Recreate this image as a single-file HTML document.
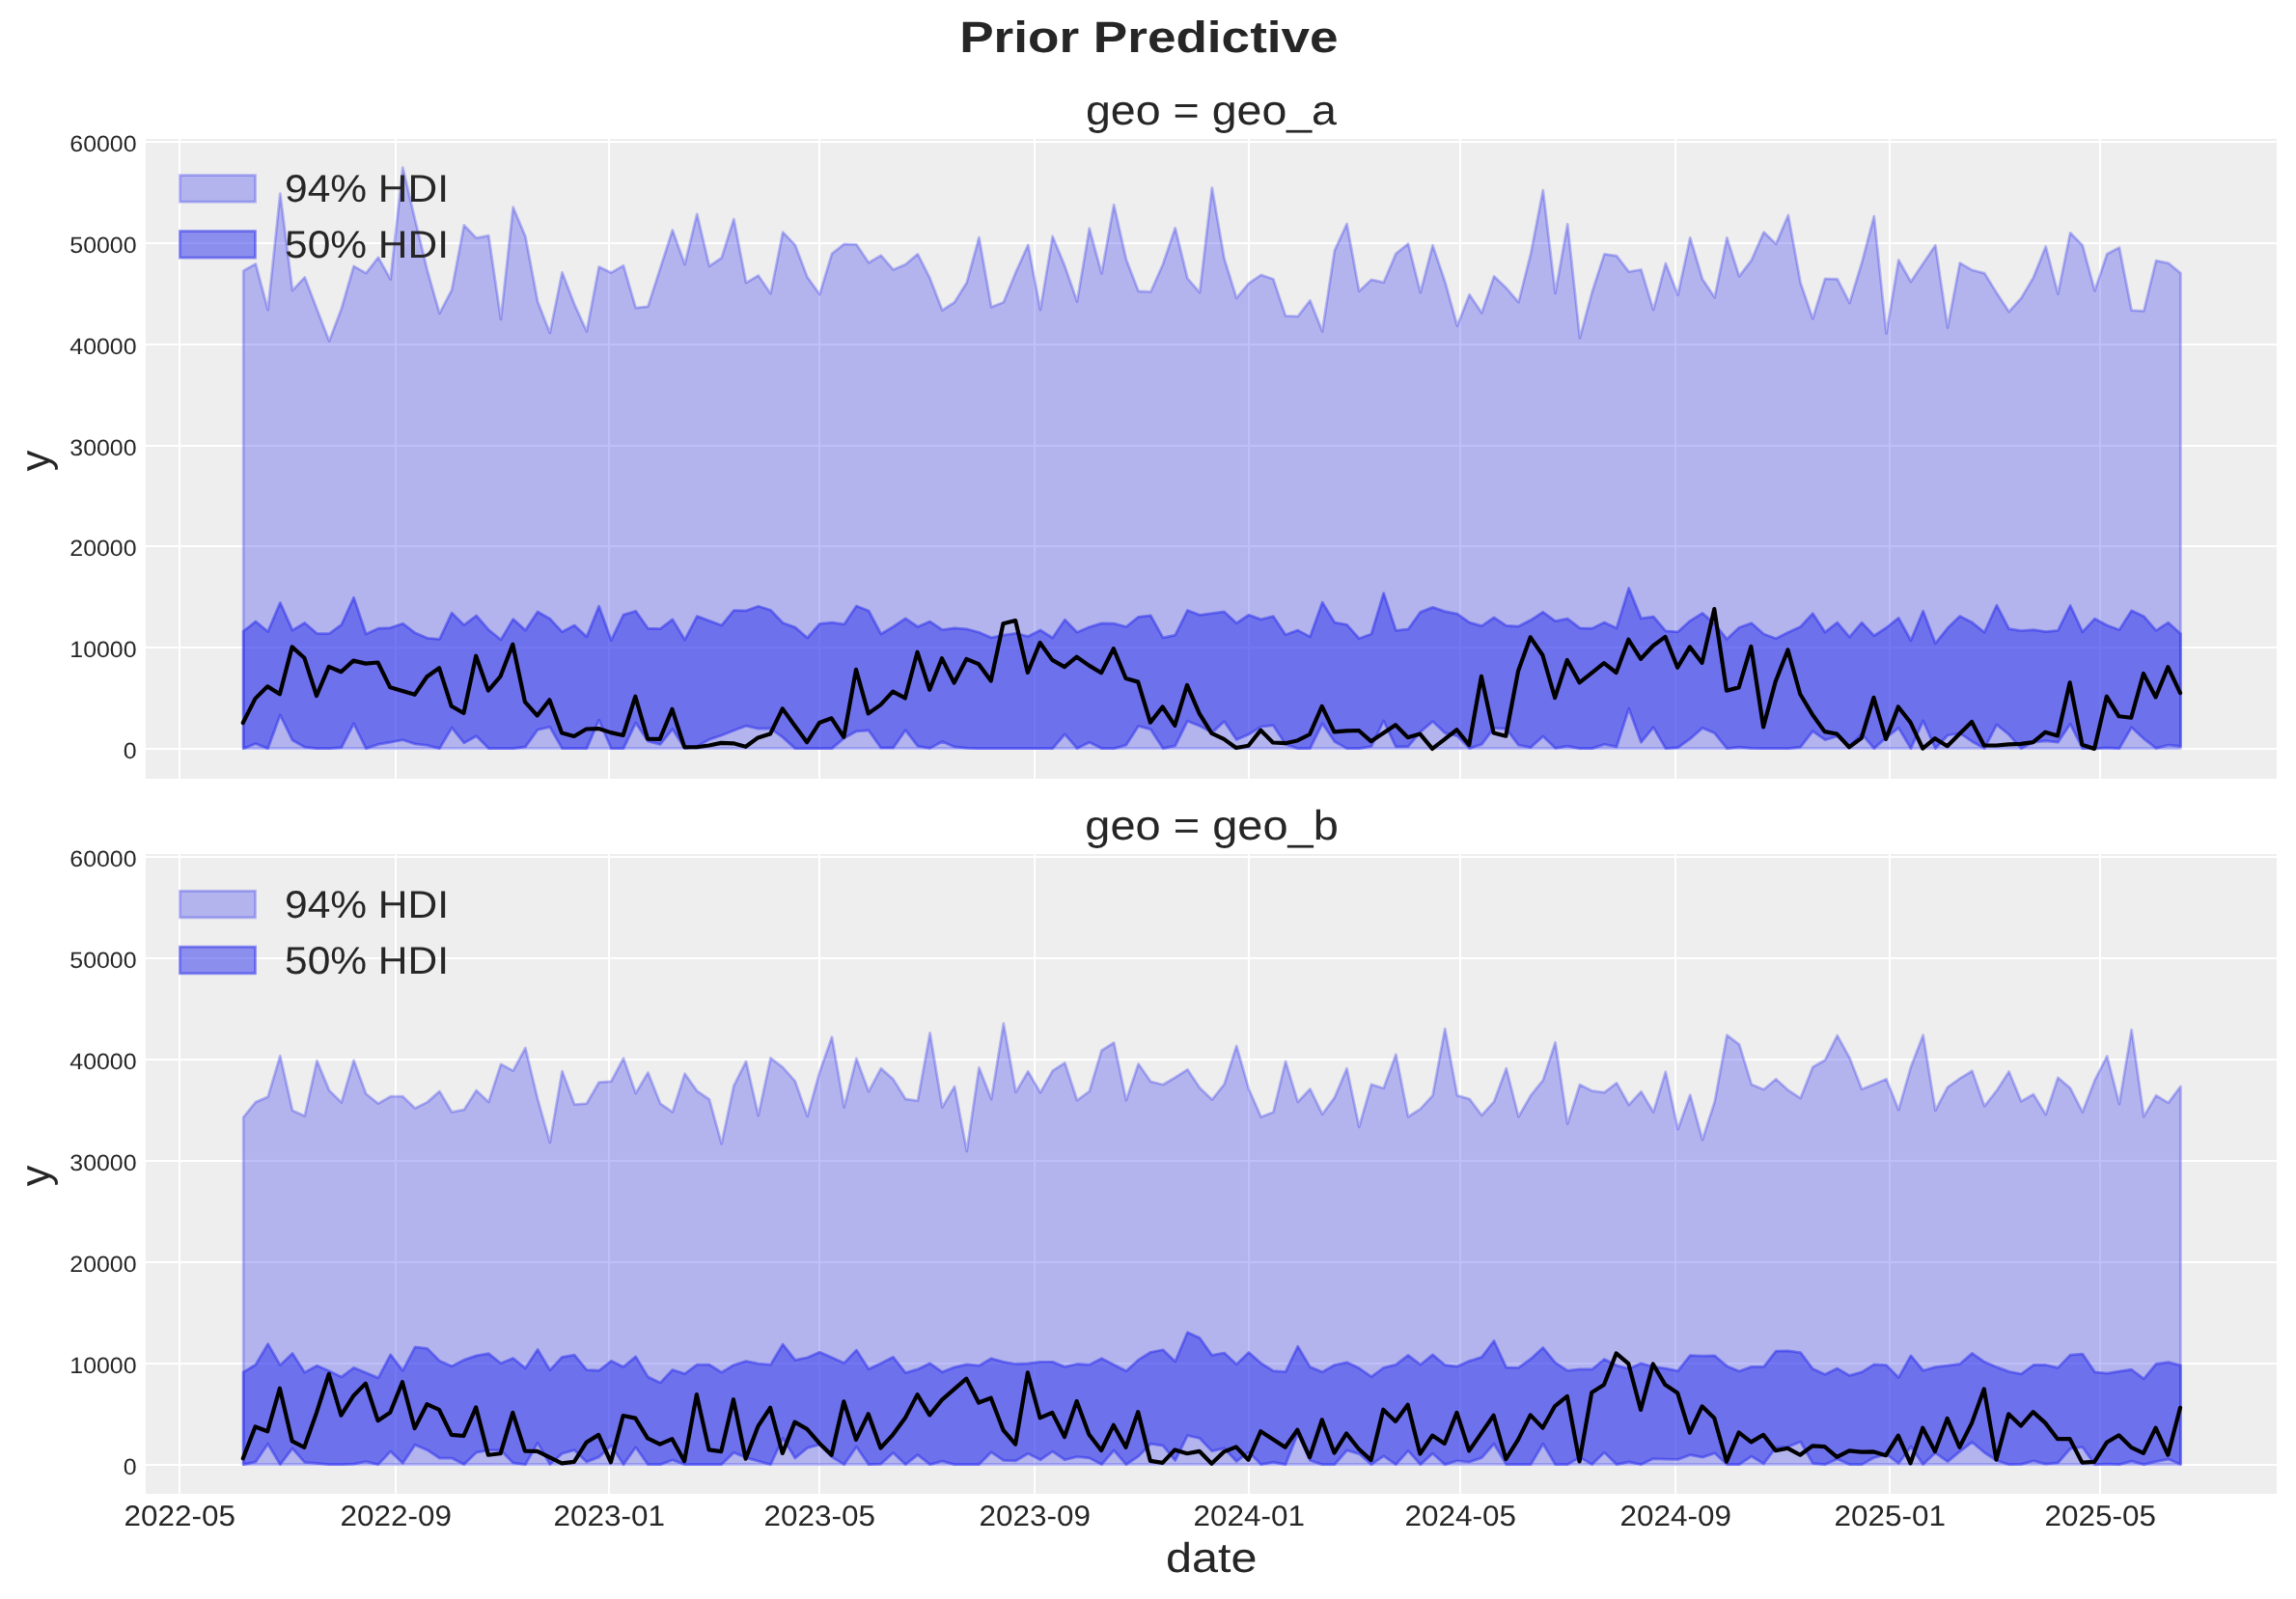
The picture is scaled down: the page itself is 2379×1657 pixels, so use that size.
<!DOCTYPE html>
<html><head><meta charset="utf-8"><title>Prior Predictive</title>
<style>html,body{margin:0;padding:0;background:#fff;width:2379px;height:1657px;overflow:hidden}svg{display:block;will-change:transform}text{font-family:"Liberation Sans", sans-serif;fill:#262626;text-rendering:geometricPrecision}</style></head><body>
<svg width="2379" height="1657" viewBox="0 0 2379 1657">
<rect width="2379" height="1657" fill="#fff"/>
<defs>
<clipPath id="c0"><rect x="151" y="144" width="2208" height="663"/></clipPath>
<clipPath id="c1"><rect x="151" y="885" width="2208" height="663"/></clipPath>
</defs>
<text id="sup" x="1190.4" y="54" text-anchor="middle" font-size="45.5" font-weight="bold" textLength="392.5" lengthAdjust="spacingAndGlyphs">Prior Predictive</text>
<rect x="151" y="144" width="2208" height="663" fill="#eeeeee"/>
<g clip-path="url(#c0)">
<path d="M185 144h2v663h-2zM409 144h2v663h-2zM630 144h2v663h-2zM848 144h2v663h-2zM1071 144h2v663h-2zM1293 144h2v663h-2zM1512 144h2v663h-2zM1735 144h2v663h-2zM1957 144h2v663h-2zM2175 144h2v663h-2zM151 775h2208v2h-2208zM151 670h2208v2h-2208zM151 565h2208v2h-2208zM151 461h2208v2h-2208zM151 356h2208v2h-2208zM151 251h2208v2h-2208zM151 146h2208v2h-2208z" fill="#fff" shape-rendering="crispEdges"/>
<polygon points="252.2,280.61 264.9,273.42 277.61,321.17 290.31,200.63 303.02,301.04 315.72,287.37 328.42,320.45 341.13,353.54 353.83,319.74 366.54,275.86 379.24,283.06 391.94,266.8 404.65,289.53 417.35,173.73 430.06,227.68 442.76,280.18 455.46,324.77 468.17,300.32 480.87,233.43 493.58,246.66 506.28,244.22 518.98,330.96 531.69,214.73 544.39,244.94 557.1,312.54 569.8,344.91 582.5,282.34 595.21,315.42 607.91,343.47 620.62,276.58 633.32,282.62 646.02,275.14 658.73,319.02 671.43,317.58 684.14,278.02 696.84,238.46 709.54,273.99 722.25,221.92 734.95,275.86 747.66,267.23 760.36,226.96 773.06,293.12 785.77,285.5 798.47,304.2 811.18,240.62 823.88,253.86 836.58,287.37 849.29,305.06 861.99,262.92 874.7,252.85 887.4,253.28 900.1,272.27 912.81,264.64 925.51,279.46 938.22,273.99 950.92,263.35 963.62,288.38 976.33,321.46 989.03,313.26 1001.74,292.69 1014.44,246.09 1027.14,318.3 1039.85,313.26 1052.55,282.05 1065.26,253.86 1077.96,321.17 1090.66,244.94 1103.37,275.86 1116.07,312.54 1128.78,236.74 1141.48,283.49 1154.18,212.28 1166.89,268.67 1179.59,301.75 1192.3,302.47 1205,273.71 1217.7,236.31 1230.41,288.38 1243.11,303.19 1255.82,194.59 1268.52,267.95 1281.22,308.95 1293.93,293.56 1306.63,284.93 1319.34,289.24 1332.04,327.36 1344.74,327.93 1357.45,311.39 1370.15,343.47 1382.86,259.61 1395.56,231.99 1408.26,301.75 1420.97,289.82 1433.67,292.69 1446.38,262.92 1459.08,252.56 1471.78,303.19 1484.49,254.29 1497.19,291.69 1509.9,337.72 1522.6,305.35 1535.3,324.34 1548.01,286.36 1560.71,298.45 1573.42,313.26 1586.12,262.92 1598.82,197.18 1611.53,303.91 1624.23,232.28 1636.94,350.37 1649.64,302.76 1662.34,263.35 1675.05,265.07 1687.75,281.62 1700.46,279.46 1713.16,321.17 1725.86,272.99 1738.57,305.64 1751.27,246.38 1763.98,289.24 1776.68,308.23 1789.38,246.38 1802.09,286.36 1814.79,269.68 1827.5,240.62 1840.2,252.85 1852.9,222.93 1865.61,293.12 1878.31,330.24 1891.02,288.81 1903.72,289.24 1916.42,313.98 1929.13,272.27 1941.83,224.08 1954.54,345.63 1967.24,269.39 1979.94,291.97 1992.65,272.99 2005.35,254.29 2018.06,339.59 2030.76,272.55 2043.46,279.89 2056.17,283.06 2068.87,303.62 2081.58,323.04 2094.28,308.95 2106.98,287.37 2119.69,255.44 2132.39,304.63 2145.1,241.34 2157.8,254.29 2170.5,301.32 2183.21,263.2 2195.91,256.44 2208.62,321.61 2221.32,322.32 2234.02,270.11 2246.73,272.7 2259.43,283.06 2259.43,775.6 2246.73,775.6 2234.02,775.6 2221.32,775.6 2208.62,775.6 2195.91,775.6 2183.21,775.6 2170.5,775.6 2157.8,775.6 2145.1,775.6 2132.39,775.6 2119.69,775.6 2106.98,775.6 2094.28,775.6 2081.58,775.6 2068.87,775.6 2056.17,775.6 2043.46,775.6 2030.76,775.6 2018.06,775.6 2005.35,775.6 1992.65,775.6 1979.94,775.6 1967.24,775.6 1954.54,775.6 1941.83,775.6 1929.13,775.6 1916.42,775.6 1903.72,775.6 1891.02,775.6 1878.31,775.6 1865.61,775.6 1852.9,775.6 1840.2,775.6 1827.5,775.6 1814.79,775.6 1802.09,775.6 1789.38,775.6 1776.68,775.6 1763.98,775.6 1751.27,775.6 1738.57,775.6 1725.86,775.6 1713.16,775.6 1700.46,775.6 1687.75,775.6 1675.05,775.6 1662.34,775.6 1649.64,775.6 1636.94,775.6 1624.23,775.6 1611.53,775.6 1598.82,775.6 1586.12,775.6 1573.42,775.6 1560.71,775.6 1548.01,775.6 1535.3,775.6 1522.6,775.6 1509.9,775.6 1497.19,775.6 1484.49,775.6 1471.78,775.6 1459.08,775.6 1446.38,775.6 1433.67,775.6 1420.97,775.6 1408.26,775.6 1395.56,775.6 1382.86,775.6 1370.15,775.6 1357.45,775.6 1344.74,775.6 1332.04,775.6 1319.34,775.6 1306.63,775.6 1293.93,775.6 1281.22,775.6 1268.52,775.6 1255.82,775.6 1243.11,775.6 1230.41,775.6 1217.7,775.6 1205,775.6 1192.3,775.6 1179.59,775.6 1166.89,775.6 1154.18,775.6 1141.48,775.6 1128.78,775.6 1116.07,775.6 1103.37,775.6 1090.66,775.6 1077.96,775.6 1065.26,775.6 1052.55,775.6 1039.85,775.6 1027.14,775.6 1014.44,775.6 1001.74,775.6 989.03,775.6 976.33,775.6 963.62,775.6 950.92,775.6 938.22,775.6 925.51,775.6 912.81,775.6 900.1,775.6 887.4,775.6 874.7,775.6 861.99,775.6 849.29,775.6 836.58,775.6 823.88,775.6 811.18,775.6 798.47,775.6 785.77,775.6 773.06,775.6 760.36,775.6 747.66,775.6 734.95,775.6 722.25,775.6 709.54,775.6 696.84,775.6 684.14,775.6 671.43,775.6 658.73,775.6 646.02,775.6 633.32,775.6 620.62,775.6 607.91,775.6 595.21,775.6 582.5,775.6 569.8,775.6 557.1,775.6 544.39,775.6 531.69,775.6 518.98,775.6 506.28,775.6 493.58,775.6 480.87,775.6 468.17,775.6 455.46,775.6 442.76,775.6 430.06,775.6 417.35,775.6 404.65,775.6 391.94,775.6 379.24,775.6 366.54,775.6 353.83,775.6 341.13,775.6 328.42,775.6 315.72,775.6 303.02,775.6 290.31,775.6 277.61,775.6 264.9,775.6 252.2,775.6" fill="#2a2eec" fill-opacity="0.3" stroke="#2a2eec" stroke-opacity="0.3" stroke-width="2.78" stroke-linejoin="round"/>
<polygon points="252.2,654.11 264.9,644.04 277.61,654.55 290.31,624.63 303.02,653.11 315.72,645.48 328.42,656.56 341.13,656.7 353.83,647.35 366.54,619.3 379.24,656.99 391.94,651.24 404.65,650.52 417.35,646.2 430.06,655.84 442.76,661.31 455.46,662.31 468.17,635.13 480.87,647.64 493.58,638 506.28,652.68 518.98,663.03 531.69,641.6 544.39,653.11 557.1,633.98 569.8,641.31 582.5,654.83 595.21,648.07 607.91,659.87 620.62,628.22 633.32,663.46 646.02,637.14 658.73,633.26 671.43,651.24 684.14,651.52 696.84,641.89 709.54,663.03 722.25,638.58 734.95,643.33 747.66,648.07 760.36,632.54 773.06,632.83 785.77,628.22 798.47,632.25 811.18,645.48 823.88,650.09 836.58,661.02 849.29,646.49 861.99,645.2 874.7,646.92 887.4,627.93 900.1,632.97 912.81,656.99 925.51,649.51 938.22,640.88 950.92,649.51 963.62,644.04 976.33,652.68 989.03,650.81 1001.74,651.96 1014.44,655.26 1027.14,660.87 1039.85,658.14 1052.55,656.27 1065.26,659.58 1077.96,652.96 1090.66,661.02 1103.37,642.17 1116.07,655.26 1128.78,649.8 1141.48,645.91 1154.18,646.2 1166.89,649.51 1179.59,639.3 1192.3,637.86 1205,660.95 1217.7,658.14 1230.41,632.54 1243.11,637.28 1255.82,635.7 1268.52,633.98 1281.22,645.77 1293.93,637.28 1306.63,641.89 1319.34,638.72 1332.04,657.71 1344.74,653.11 1357.45,659.87 1370.15,624.19 1382.86,645.05 1395.56,647.35 1408.26,661.74 1420.97,656.99 1433.67,614.56 1446.38,653.39 1459.08,651.96 1471.78,634.41 1484.49,629.37 1497.19,633.69 1509.9,636.13 1522.6,645.05 1535.3,648.65 1548.01,640.02 1560.71,648.36 1573.42,649.08 1586.12,642.61 1598.82,634.26 1611.53,643.61 1624.23,641.17 1636.94,650.81 1649.64,651.24 1662.34,645.05 1675.05,650.95 1687.75,609.52 1700.46,640.88 1713.16,639.01 1725.86,653.83 1738.57,654.83 1751.27,643.33 1763.98,635.41 1776.68,646.63 1789.38,662.31 1802.09,650.23 1814.79,645.77 1827.5,656.99 1840.2,661.74 1852.9,655.26 1865.61,649.51 1878.31,635.7 1891.02,655.12 1903.72,645.2 1916.42,660.16 1929.13,645.2 1941.83,658.72 1954.54,650.52 1967.24,640.45 1979.94,663.75 1992.65,633.26 2005.35,666.77 2018.06,650.81 2030.76,638.58 2043.46,645.05 2056.17,655.26 2068.87,627.22 2081.58,651.67 2094.28,653.68 2106.98,652.68 2119.69,654.55 2132.39,653.39 2145.1,627.5 2157.8,654.83 2170.5,641.17 2183.21,647.93 2195.91,652.68 2208.62,632.83 2221.32,638.72 2234.02,653.39 2246.73,645.2 2259.43,656.7 2259.43,773.5 2246.73,772.07 2234.02,775.37 2221.32,765.59 2208.62,753.65 2195.91,775.6 2183.21,774.94 2170.5,775.6 2157.8,775.6 2145.1,750.2 2132.39,769.19 2119.69,767.75 2106.98,769.19 2094.28,775.6 2081.58,761.28 2068.87,750.92 2056.17,775.6 2043.46,768.47 2030.76,759.84 2018.06,762 2005.35,775.6 1992.65,746.89 1979.94,775.6 1967.24,754.37 1954.54,764.15 1941.83,775.6 1929.13,760.56 1916.42,773.5 1903.72,763 1891.02,766.74 1878.31,757.68 1865.61,774.22 1852.9,775.6 1840.2,775.6 1827.5,775.6 1814.79,775.37 1802.09,774.22 1789.38,775.6 1776.68,759.84 1763.98,754.37 1751.27,765.59 1738.57,774.65 1725.86,775.6 1713.16,753.65 1700.46,769.19 1687.75,734.23 1675.05,773.79 1662.34,771.35 1649.64,775.6 1636.94,775.6 1624.23,773.22 1611.53,775.37 1598.82,763 1586.12,774.51 1573.42,772.07 1560.71,755.24 1548.01,754.37 1535.3,771.35 1522.6,775.6 1509.9,762.72 1497.19,759.55 1484.49,747.61 1471.78,758.4 1459.08,773.5 1446.38,773.94 1433.67,746.89 1420.97,773.5 1408.26,775.6 1395.56,775.6 1382.86,768.47 1370.15,749.77 1357.45,775.6 1344.74,775.6 1332.04,771.35 1319.34,751.64 1306.63,753.08 1293.93,760.99 1281.22,766.6 1268.52,747.61 1255.82,759.12 1243.11,752.22 1230.41,747.18 1217.7,772.78 1205,775.6 1192.3,755.81 1179.59,752.36 1166.89,772.07 1154.18,775.6 1141.48,775.6 1128.78,769.19 1116.07,775.6 1103.37,760.85 1090.66,775.6 1077.96,775.6 1065.26,775.6 1052.55,775.6 1039.85,775.6 1027.14,775.6 1014.44,775.6 1001.74,775.23 989.03,773.94 976.33,768.47 963.62,775.37 950.92,773.22 938.22,756.67 925.51,774.94 912.81,774.94 900.1,756.96 887.4,757.83 874.7,764.87 861.99,775.6 849.29,775.6 836.58,775.6 823.88,775.6 811.18,764.15 798.47,754.8 785.77,755.09 773.06,752.22 760.36,756.96 747.66,762 734.95,766.31 722.25,773.5 709.54,775.6 696.84,755.52 684.14,771.35 671.43,768.18 658.73,749.05 646.02,775.6 633.32,775.6 620.62,746.17 607.91,775.6 595.21,775.6 582.5,775.6 569.8,753.37 557.1,756.24 544.39,773.94 531.69,775.6 518.98,775.6 506.28,775.6 493.58,762.72 480.87,769.91 468.17,754.09 455.46,775.6 442.76,772.35 430.06,770.91 417.35,766.74 404.65,769.19 391.94,771.35 379.24,775.6 366.54,749.77 353.83,774.51 341.13,775.6 328.42,775.6 315.72,774.22 303.02,767.03 290.31,740.85 277.61,775.6 264.9,770.63 252.2,775.6" fill="#2a2eec" fill-opacity="0.5" stroke="#2a2eec" stroke-opacity="0.5" stroke-width="2.78" stroke-linejoin="round"/>
<polyline points="251.8,749.05 264.5,723.88 277.21,711.36 289.91,719.28 302.62,670.37 315.32,681.73 328.02,721 340.73,690.79 353.43,696.26 366.14,684.61 378.84,687.63 391.54,686.48 404.25,712.37 416.95,716.11 429.66,719.85 442.36,701.29 455.06,692.23 467.77,731.79 480.47,738.98 493.18,679.72 505.88,715.68 518.58,700.86 531.29,667.78 543.99,727.47 556.7,741.57 569.4,725.32 582.1,759.55 594.81,763 607.51,755.52 620.22,755.09 632.92,759.12 645.62,762 658.33,721.72 671.03,765.59 683.74,765.88 696.44,734.95 709.14,774.22 721.85,774.22 734.55,772.5 747.26,769.91 759.96,770.34 772.66,773.79 785.37,764.44 798.07,760.56 810.78,734.38 823.48,751.93 836.18,769.19 848.89,749.05 861.59,744.3 874.3,763.87 887,693.89 899.7,739.41 912.41,730.35 925.11,716.69 937.82,723.45 950.52,675.69 963.22,714.82 975.93,682.16 988.63,707.62 1001.34,682.88 1014.04,688.2 1026.74,705.47 1039.45,646.2 1052.15,643.04 1064.86,696.98 1077.56,666.05 1090.26,683.89 1102.97,691.08 1115.67,680.72 1128.38,689.64 1141.08,697.27 1153.78,672.09 1166.49,703.02 1179.19,706.62 1191.9,748.62 1204.6,732.51 1217.3,751.93 1230.01,709.93 1242.71,739.41 1255.42,759.84 1268.12,765.88 1280.82,774.94 1293.53,772.78 1306.23,756.67 1318.94,769.48 1331.64,770.2 1344.34,767.46 1357.05,760.99 1369.75,731.79 1382.46,758.4 1395.16,757.39 1407.86,756.96 1420.57,768.18 1433.27,759.7 1445.98,751.21 1458.68,764.15 1471.38,760.56 1484.09,775.95 1496.79,766.02 1509.5,756.24 1522.2,772.07 1534.9,700.86 1547.61,759.55 1560.31,762.72 1573.02,695.54 1585.72,660.3 1598.42,679 1611.13,723.16 1623.83,683.89 1636.54,707.34 1649.24,697.27 1661.94,687.2 1674.65,696.98 1687.35,662.74 1700.06,682.88 1712.76,669.22 1725.46,659.87 1738.17,691.8 1750.87,670.37 1763.58,686.91 1776.28,631.1 1788.98,715.68 1801.69,712.37 1814.39,669.94 1827.1,753.37 1839.8,705.9 1852.5,673.53 1865.21,719.28 1877.91,740.42 1890.62,758.11 1903.32,760.56 1916.02,774.22 1928.73,764.87 1941.43,722.87 1954.14,765.88 1966.84,732.51 1979.54,748.62 1992.25,775.66 2004.95,765.16 2017.66,773.22 2030.36,760.56 2043.06,748.04 2055.77,772.5 2068.47,772.5 2081.18,771.35 2093.88,770.91 2106.58,769.19 2119.29,758.69 2131.99,762.43 2144.7,707.34 2157.4,771.71 2170.1,775.95 2182.81,721.72 2195.51,742.29 2208.22,743.73 2220.92,697.99 2233.62,722.44 2246.33,691.23 2259.03,718.12" fill="none" stroke="#000" stroke-width="4.17" stroke-linejoin="round" stroke-linecap="round"/>
<rect x="186.4" y="181.6" width="78.1" height="27.6" fill="#2a2eec" fill-opacity="0.3" stroke="#2a2eec" stroke-opacity="0.3" stroke-width="2.78"/>
<rect x="186.4" y="239.5" width="78.1" height="27.6" fill="#2a2eec" fill-opacity="0.5" stroke="#2a2eec" stroke-opacity="0.5" stroke-width="2.78"/>
</g>
<text class="leg" x="295" y="209.2" font-size="40" textLength="170" lengthAdjust="spacingAndGlyphs">94% HDI</text>
<text class="leg" x="295" y="267.3" font-size="40" textLength="170" lengthAdjust="spacingAndGlyphs">50% HDI</text>
<text class="ttl" x="1255" y="128.5" text-anchor="middle" font-size="43" textLength="260" lengthAdjust="spacingAndGlyphs">geo = geo_a</text>
<text class="yt" x="141.5" y="786.1" text-anchor="end" font-size="23.6" textLength="13.84" lengthAdjust="spacingAndGlyphs">0</text>
<text class="yt" x="141.5" y="681.1" text-anchor="end" font-size="23.6" textLength="69.2" lengthAdjust="spacingAndGlyphs">10000</text>
<text class="yt" x="141.5" y="576.1" text-anchor="end" font-size="23.6" textLength="69.2" lengthAdjust="spacingAndGlyphs">20000</text>
<text class="yt" x="141.5" y="472.1" text-anchor="end" font-size="23.6" textLength="69.2" lengthAdjust="spacingAndGlyphs">30000</text>
<text class="yt" x="141.5" y="367.1" text-anchor="end" font-size="23.6" textLength="69.2" lengthAdjust="spacingAndGlyphs">40000</text>
<text class="yt" x="141.5" y="262.1" text-anchor="end" font-size="23.6" textLength="69.2" lengthAdjust="spacingAndGlyphs">50000</text>
<text class="yt" x="141.5" y="157.1" text-anchor="end" font-size="23.6" textLength="69.2" lengthAdjust="spacingAndGlyphs">60000</text>
<text class="yl" transform="translate(51.3 477.5) rotate(-90)" text-anchor="middle" font-size="43">y</text>
<rect x="151" y="885" width="2208" height="663" fill="#eeeeee"/>
<g clip-path="url(#c1)">
<path d="M185 885h2v663h-2zM409 885h2v663h-2zM630 885h2v663h-2zM848 885h2v663h-2zM1071 885h2v663h-2zM1293 885h2v663h-2zM1512 885h2v663h-2zM1735 885h2v663h-2zM1957 885h2v663h-2zM2175 885h2v663h-2zM151 1517h2208v2h-2208zM151 1412h2208v2h-2208zM151 1307h2208v2h-2208zM151 1202h2208v2h-2208zM151 1097h2208v2h-2208zM151 992h2208v2h-2208zM151 887h2208v2h-2208z" fill="#fff" shape-rendering="crispEdges"/>
<polygon points="252.2,1157.8 264.9,1142.12 277.61,1136.65 290.31,1094.22 303.02,1150.75 315.72,1156.5 328.42,1099.25 341.13,1129.89 353.83,1142.41 366.54,1098.82 379.24,1133.49 391.94,1143.56 404.65,1136.22 417.35,1136.22 430.06,1148.45 442.76,1142.12 455.46,1130.9 468.17,1152.47 480.87,1149.88 493.58,1129.89 506.28,1142.12 518.98,1102.85 531.69,1109.61 544.39,1086.02 557.1,1138.81 569.8,1183.98 582.5,1110.04 595.21,1144.56 607.91,1143.56 620.62,1121.55 633.32,1120.54 646.02,1096.66 658.73,1133.06 671.43,1111.48 684.14,1143.56 696.84,1152.47 709.54,1112.63 722.25,1130.61 734.95,1139.24 747.66,1185.27 760.36,1125.14 773.06,1099.97 785.77,1156.07 798.47,1096.38 811.18,1106.16 823.88,1120.4 836.58,1156.79 849.29,1110.76 861.99,1074.8 874.7,1147.44 887.4,1096.88 900.1,1131.19 912.81,1107.16 925.51,1118.38 938.22,1138.81 950.92,1140.68 963.62,1070.48 976.33,1147.44 989.03,1125.86 1001.74,1193.04 1014.44,1106.44 1027.14,1139.1 1039.85,1060.7 1052.55,1131.9 1065.26,1110.33 1077.96,1132.34 1090.66,1109.61 1103.37,1101.41 1116.07,1140.25 1128.78,1130.9 1141.48,1088.46 1154.18,1080.55 1166.89,1140.25 1179.59,1102.56 1192.3,1120.83 1205,1123.99 1217.7,1116.51 1230.41,1108.31 1243.11,1127.3 1255.82,1139.53 1268.52,1123.71 1281.22,1083.86 1293.93,1128.45 1306.63,1157.51 1319.34,1152.47 1332.04,1099.97 1344.74,1141.97 1357.45,1128.45 1370.15,1154.63 1382.86,1137.37 1395.56,1107.16 1408.26,1167.87 1420.97,1123.71 1433.67,1127.73 1446.38,1092.78 1459.08,1157.22 1471.78,1149.17 1484.49,1135.21 1497.19,1066.17 1509.9,1135.21 1522.6,1138.81 1535.3,1155.78 1548.01,1141.69 1560.71,1107.16 1573.42,1157.22 1586.12,1135.21 1598.82,1119.39 1611.53,1080.26 1624.23,1164.7 1636.94,1123.99 1649.64,1130.47 1662.34,1132.05 1675.05,1122.27 1687.75,1144.99 1700.46,1131.19 1713.16,1152.47 1725.86,1110.76 1738.57,1170.17 1751.27,1134.78 1763.98,1181.24 1776.68,1141.69 1789.38,1072.64 1802.09,1082.28 1814.79,1123.71 1827.5,1129.03 1840.2,1118.24 1852.9,1129.75 1865.61,1138.09 1878.31,1105.72 1891.02,1098.53 1903.72,1073.07 1916.42,1096.09 1929.13,1128.74 1941.83,1123.42 1954.54,1118.24 1967.24,1150.32 1979.94,1105.72 1992.65,1072.64 2005.35,1150.75 2018.06,1126.58 2030.76,1117.52 2043.46,1109.75 2056.17,1146.29 2068.87,1130.18 2081.58,1110.47 2094.28,1141.25 2106.98,1134.06 2119.69,1155.06 2132.39,1116.8 2145.1,1127.59 2157.8,1152.47 2170.5,1119.39 2183.21,1094.51 2195.91,1144.13 2208.62,1067.17 2221.32,1157.08 2234.02,1135.21 2246.73,1142.84 2259.43,1125.86 2259.43,1517.6 2246.73,1517.6 2234.02,1517.6 2221.32,1517.6 2208.62,1517.6 2195.91,1517.6 2183.21,1517.6 2170.5,1517.6 2157.8,1517.6 2145.1,1517.6 2132.39,1517.6 2119.69,1517.6 2106.98,1517.6 2094.28,1517.6 2081.58,1517.6 2068.87,1517.6 2056.17,1517.6 2043.46,1517.6 2030.76,1517.6 2018.06,1517.6 2005.35,1517.6 1992.65,1517.6 1979.94,1517.6 1967.24,1517.6 1954.54,1517.6 1941.83,1517.6 1929.13,1517.6 1916.42,1517.6 1903.72,1517.6 1891.02,1517.6 1878.31,1517.6 1865.61,1517.6 1852.9,1517.6 1840.2,1517.6 1827.5,1517.6 1814.79,1517.6 1802.09,1517.6 1789.38,1517.6 1776.68,1517.6 1763.98,1517.6 1751.27,1517.6 1738.57,1517.6 1725.86,1517.6 1713.16,1517.6 1700.46,1517.6 1687.75,1517.6 1675.05,1517.6 1662.34,1517.6 1649.64,1517.6 1636.94,1517.6 1624.23,1517.6 1611.53,1517.6 1598.82,1517.6 1586.12,1517.6 1573.42,1517.6 1560.71,1517.6 1548.01,1517.6 1535.3,1517.6 1522.6,1517.6 1509.9,1517.6 1497.19,1517.6 1484.49,1517.6 1471.78,1517.6 1459.08,1517.6 1446.38,1517.6 1433.67,1517.6 1420.97,1517.6 1408.26,1517.6 1395.56,1517.6 1382.86,1517.6 1370.15,1517.6 1357.45,1517.6 1344.74,1517.6 1332.04,1517.6 1319.34,1517.6 1306.63,1517.6 1293.93,1517.6 1281.22,1517.6 1268.52,1517.6 1255.82,1517.6 1243.11,1517.6 1230.41,1517.6 1217.7,1517.6 1205,1517.6 1192.3,1517.6 1179.59,1517.6 1166.89,1517.6 1154.18,1517.6 1141.48,1517.6 1128.78,1517.6 1116.07,1517.6 1103.37,1517.6 1090.66,1517.6 1077.96,1517.6 1065.26,1517.6 1052.55,1517.6 1039.85,1517.6 1027.14,1517.6 1014.44,1517.6 1001.74,1517.6 989.03,1517.6 976.33,1517.6 963.62,1517.6 950.92,1517.6 938.22,1517.6 925.51,1517.6 912.81,1517.6 900.1,1517.6 887.4,1517.6 874.7,1517.6 861.99,1517.6 849.29,1517.6 836.58,1517.6 823.88,1517.6 811.18,1517.6 798.47,1517.6 785.77,1517.6 773.06,1517.6 760.36,1517.6 747.66,1517.6 734.95,1517.6 722.25,1517.6 709.54,1517.6 696.84,1517.6 684.14,1517.6 671.43,1517.6 658.73,1517.6 646.02,1517.6 633.32,1517.6 620.62,1517.6 607.91,1517.6 595.21,1517.6 582.5,1517.6 569.8,1517.6 557.1,1517.6 544.39,1517.6 531.69,1517.6 518.98,1517.6 506.28,1517.6 493.58,1517.6 480.87,1517.6 468.17,1517.6 455.46,1517.6 442.76,1517.6 430.06,1517.6 417.35,1517.6 404.65,1517.6 391.94,1517.6 379.24,1517.6 366.54,1517.6 353.83,1517.6 341.13,1517.6 328.42,1517.6 315.72,1517.6 303.02,1517.6 290.31,1517.6 277.61,1517.6 264.9,1517.6 252.2,1517.6" fill="#2a2eec" fill-opacity="0.3" stroke="#2a2eec" stroke-opacity="0.3" stroke-width="2.78" stroke-linejoin="round"/>
<polygon points="252.2,1421.84 264.9,1414.22 277.61,1392.64 290.31,1414.65 303.02,1402.42 315.72,1422.13 328.42,1415.22 341.13,1420.69 353.83,1426.88 366.54,1417.38 379.24,1422.42 391.94,1427.88 404.65,1403.86 417.35,1420.4 430.06,1395.95 442.76,1397.39 455.46,1410.19 468.17,1415.66 480.87,1409.18 493.58,1404.87 506.28,1402.71 518.98,1412.78 531.69,1407.46 544.39,1417.81 557.1,1398.39 569.8,1419.83 582.5,1406.31 595.21,1404.15 607.91,1419.54 620.62,1420.26 633.32,1410.33 646.02,1416.38 658.73,1405.87 671.43,1426.88 684.14,1432.92 696.84,1419.54 709.54,1423.57 722.25,1414.22 734.95,1414.22 747.66,1422.13 760.36,1414.51 773.06,1410.62 785.77,1413.21 798.47,1414.22 811.18,1393.07 823.88,1409.47 836.58,1406.74 849.29,1401.27 861.99,1406.74 874.7,1412.49 887.4,1399.11 900.1,1418.82 912.81,1412.78 925.51,1406.31 938.22,1422.56 950.92,1418.96 963.62,1412.78 976.33,1421.84 989.03,1416.81 1001.74,1413.93 1014.44,1415.22 1027.14,1407.74 1039.85,1411.34 1052.55,1413.5 1065.26,1412.78 1077.96,1411.34 1090.66,1411.34 1103.37,1416.38 1116.07,1413.5 1128.78,1414.22 1141.48,1407.74 1154.18,1414.22 1166.89,1420.69 1179.59,1409.18 1192.3,1401.27 1205,1398.75 1217.7,1411.05 1230.41,1380.7 1243.11,1386.6 1255.82,1404.44 1268.52,1401.99 1281.22,1413.79 1293.93,1401.56 1306.63,1412.78 1319.34,1420.69 1332.04,1421.7 1344.74,1395.23 1357.45,1416.66 1370.15,1421.7 1382.86,1414.51 1395.56,1411.77 1408.26,1417.81 1420.97,1426.73 1433.67,1417.38 1446.38,1414.22 1459.08,1404.44 1471.78,1414.22 1484.49,1403.86 1497.19,1414.51 1509.9,1416.09 1522.6,1410.33 1535.3,1406.31 1548.01,1389.48 1560.71,1417.09 1573.42,1417.38 1586.12,1408.18 1598.82,1396.52 1611.53,1412.06 1624.23,1420.4 1636.94,1418.96 1649.64,1418.96 1662.34,1408.46 1675.05,1414.94 1687.75,1418.53 1700.46,1412.78 1713.16,1416.38 1725.86,1418.1 1738.57,1420.69 1751.27,1404.58 1763.98,1405.16 1776.68,1404.87 1789.38,1415.66 1802.09,1420.98 1814.79,1416.38 1827.5,1416.38 1840.2,1400.12 1852.9,1399.83 1865.61,1401.7 1878.31,1418.53 1891.02,1424.29 1903.72,1418.1 1916.42,1425.44 1929.13,1421.84 1941.83,1413.93 1954.54,1414.65 1967.24,1427.59 1979.94,1404.87 1992.65,1420.26 2005.35,1416.66 2018.06,1415.22 2030.76,1413.5 2043.46,1402.42 2056.17,1411.34 2068.87,1416.66 2081.58,1421.41 2094.28,1423.86 2106.98,1414.51 2119.69,1414.51 2132.39,1417.38 2145.1,1404.15 2157.8,1403.14 2170.5,1421.84 2183.21,1423.14 2195.91,1421.12 2208.62,1419.25 2221.32,1428.89 2234.02,1413.5 2246.73,1411.63 2259.43,1414.94 2259.43,1517.6 2246.73,1512.03 2234.02,1514.62 2221.32,1517.6 2208.62,1514.19 2195.91,1517.6 2183.21,1517.07 2170.5,1517.6 2157.8,1499.52 2145.1,1501.24 2132.39,1515.91 2119.69,1517.07 2106.98,1513.9 2094.28,1517.35 2081.58,1517.6 2068.87,1513.47 2056.17,1505.27 2043.46,1494.48 2030.76,1504.12 2018.06,1514.62 2005.35,1505.56 1992.65,1517.6 1979.94,1499.09 1967.24,1516.35 1954.54,1507 1941.83,1510.59 1929.13,1517.6 1916.42,1517.6 1903.72,1512.03 1891.02,1517.6 1878.31,1516.35 1865.61,1494.05 1852.9,1499.09 1840.2,1499.8 1827.5,1516.78 1814.79,1509.15 1802.09,1517.6 1789.38,1517.6 1776.68,1505.85 1763.98,1510.16 1751.27,1507.72 1738.57,1512.32 1725.86,1512.03 1713.16,1511.6 1700.46,1517.6 1687.75,1514.91 1675.05,1517.6 1662.34,1505.13 1649.64,1517.6 1636.94,1510.16 1624.23,1517.6 1611.53,1517.6 1598.82,1496.21 1586.12,1517.6 1573.42,1517.6 1560.71,1517.6 1548.01,1496.21 1535.3,1510.59 1522.6,1515.05 1509.9,1513.76 1497.19,1517.6 1484.49,1506.28 1471.78,1517.6 1459.08,1503.4 1446.38,1517.6 1433.67,1508.87 1420.97,1517.6 1408.26,1506.57 1395.56,1502.97 1382.86,1517.6 1370.15,1517.6 1357.45,1513.47 1344.74,1485.42 1332.04,1517.6 1319.34,1515.2 1306.63,1517.6 1293.93,1504.84 1281.22,1514.48 1268.52,1500.81 1255.82,1503.69 1243.11,1490.45 1230.41,1487.58 1217.7,1513.47 1205,1498.15 1192.3,1496.21 1179.59,1509.15 1166.89,1517.6 1154.18,1502.97 1141.48,1517.6 1128.78,1510.88 1116.07,1509.59 1103.37,1512.75 1090.66,1504.12 1077.96,1512.75 1065.26,1506.28 1052.55,1513.76 1039.85,1513.47 1027.14,1504.84 1014.44,1517.6 1001.74,1517.6 989.03,1517.6 976.33,1514.19 963.62,1517.6 950.92,1507.72 938.22,1517.6 925.51,1505.56 912.81,1517.07 900.1,1517.6 887.4,1499.3 874.7,1517.6 861.99,1509.87 849.29,1496.93 836.58,1500.52 823.88,1511.02 811.18,1490.45 798.47,1517.6 785.77,1514.19 773.06,1510.59 760.36,1505.27 747.66,1517.6 734.95,1517.6 722.25,1517.6 709.54,1517.6 696.84,1513.04 684.14,1517.6 671.43,1517.6 658.73,1499.8 646.02,1517.6 633.32,1497.93 620.62,1509.87 607.91,1514.91 595.21,1502.68 582.5,1506.28 569.8,1517.43 557.1,1495.2 544.39,1517.6 531.69,1515.91 518.98,1502.97 506.28,1502.97 493.58,1505.13 480.87,1517.6 468.17,1511.02 455.46,1511.02 442.76,1502.68 430.06,1497.22 417.35,1516.35 404.65,1504.12 391.94,1517.6 379.24,1514.62 366.54,1517.07 353.83,1517.6 341.13,1517.6 328.42,1516.35 315.72,1515.34 303.02,1500.96 290.31,1517.6 277.61,1496.21 264.9,1514.91 252.2,1517.6" fill="#2a2eec" fill-opacity="0.5" stroke="#2a2eec" stroke-opacity="0.5" stroke-width="2.78" stroke-linejoin="round"/>
<polyline points="251.8,1511.31 264.5,1478.52 277.21,1483.26 289.91,1438.67 302.62,1493.33 315.32,1499.8 328.02,1463.84 340.73,1423.86 353.43,1466.72 366.14,1446.58 378.84,1433.64 391.54,1472.19 404.25,1463.84 416.95,1432.2 429.66,1480.1 442.36,1455.21 455.06,1460.97 467.77,1486.86 480.47,1488.01 493.18,1458.38 505.88,1507.72 518.58,1506.28 531.29,1463.84 543.99,1503.69 556.7,1503.83 569.4,1510.23 582.1,1516.35 594.81,1514.91 607.51,1494.77 620.22,1486.86 632.92,1515.34 645.62,1467.01 658.33,1469.6 671.03,1490.45 683.74,1496.64 696.44,1491.17 709.14,1514.19 721.85,1445.14 734.55,1502.39 747.26,1504.12 759.96,1450.18 772.66,1511.74 785.37,1478.23 798.07,1458.81 810.78,1505.99 823.48,1473.62 836.18,1480.82 848.89,1495.49 861.59,1507.72 874.3,1452.34 887,1491.89 899.7,1465.28 912.41,1500.52 925.11,1486.86 937.82,1469.6 950.52,1445.14 963.22,1466.43 975.93,1450.61 988.63,1439.68 1001.34,1428.6 1014.04,1453.49 1026.74,1448.74 1039.45,1481.82 1052.15,1496.64 1064.86,1422.42 1077.56,1469.31 1090.26,1463.84 1102.97,1489.02 1115.67,1452.05 1128.38,1486.43 1141.08,1502.97 1153.78,1476.79 1166.49,1499.8 1179.19,1463.12 1191.9,1513.9 1204.6,1515.91 1217.3,1502.39 1230.01,1506.28 1242.71,1503.83 1255.42,1516.78 1268.12,1504.41 1280.82,1499.37 1293.53,1512.75 1306.23,1483.26 1318.94,1491.46 1331.64,1499.8 1344.34,1481.82 1357.05,1510.16 1369.75,1471.32 1382.46,1505.56 1395.16,1485.42 1407.86,1501.53 1420.57,1513.04 1433.27,1460.68 1445.98,1472.91 1458.68,1455.64 1471.38,1506.57 1484.09,1487.58 1496.79,1495.92 1509.5,1463.84 1522.2,1503.4 1534.9,1485.13 1547.61,1466.72 1560.31,1512.03 1573.02,1491.89 1585.72,1466.43 1598.42,1479.67 1611.13,1457.08 1623.83,1446.87 1636.54,1514.48 1649.24,1442.99 1661.94,1435.07 1674.65,1402.42 1687.35,1413.21 1700.06,1460.97 1712.76,1413.5 1725.46,1435.07 1738.17,1443.42 1750.87,1484.7 1763.58,1457.37 1776.28,1469.6 1788.98,1514.62 1801.69,1484.41 1814.39,1494.34 1827.1,1486.86 1839.8,1503.11 1852.5,1500.81 1865.21,1507.72 1877.91,1498.37 1890.62,1499.09 1903.32,1509.87 1916.02,1503.4 1928.73,1504.55 1941.43,1504.41 1954.14,1508.15 1966.84,1487.58 1979.54,1516.35 1992.25,1479.67 2004.95,1504.12 2017.66,1469.88 2030.36,1499.8 2043.06,1474.63 2055.77,1439.39 2068.47,1512.75 2081.18,1465.28 2093.88,1477.51 2106.58,1463.12 2119.29,1474.63 2131.99,1491.17 2144.7,1491.17 2157.4,1515.63 2170.1,1514.91 2182.81,1494.77 2195.51,1487.29 2208.22,1499.8 2220.92,1505.85 2233.62,1479.67 2246.33,1507.72 2259.03,1458.81" fill="none" stroke="#000" stroke-width="4.17" stroke-linejoin="round" stroke-linecap="round"/>
<rect x="186.4" y="923.3" width="78.1" height="27.6" fill="#2a2eec" fill-opacity="0.3" stroke="#2a2eec" stroke-opacity="0.3" stroke-width="2.78"/>
<rect x="186.4" y="981.2" width="78.1" height="27.6" fill="#2a2eec" fill-opacity="0.5" stroke="#2a2eec" stroke-opacity="0.5" stroke-width="2.78"/>
</g>
<text class="leg" x="295" y="950.9" font-size="40" textLength="170" lengthAdjust="spacingAndGlyphs">94% HDI</text>
<text class="leg" x="295" y="1009" font-size="40" textLength="170" lengthAdjust="spacingAndGlyphs">50% HDI</text>
<text class="ttl" x="1255.6" y="869.5" text-anchor="middle" font-size="43" textLength="262.5" lengthAdjust="spacingAndGlyphs">geo = geo_b</text>
<text class="yt" x="141.5" y="1528.1" text-anchor="end" font-size="23.6" textLength="13.84" lengthAdjust="spacingAndGlyphs">0</text>
<text class="yt" x="141.5" y="1423.1" text-anchor="end" font-size="23.6" textLength="69.2" lengthAdjust="spacingAndGlyphs">10000</text>
<text class="yt" x="141.5" y="1318.1" text-anchor="end" font-size="23.6" textLength="69.2" lengthAdjust="spacingAndGlyphs">20000</text>
<text class="yt" x="141.5" y="1213.1" text-anchor="end" font-size="23.6" textLength="69.2" lengthAdjust="spacingAndGlyphs">30000</text>
<text class="yt" x="141.5" y="1108.1" text-anchor="end" font-size="23.6" textLength="69.2" lengthAdjust="spacingAndGlyphs">40000</text>
<text class="yt" x="141.5" y="1003.1" text-anchor="end" font-size="23.6" textLength="69.2" lengthAdjust="spacingAndGlyphs">50000</text>
<text class="yt" x="141.5" y="898.1" text-anchor="end" font-size="23.6" textLength="69.2" lengthAdjust="spacingAndGlyphs">60000</text>
<text class="yl" transform="translate(51.3 1218.5) rotate(-90)" text-anchor="middle" font-size="43">y</text>
<text class="xt" x="186.3" y="1581" text-anchor="middle" font-size="30" textLength="115.5" lengthAdjust="spacingAndGlyphs">2022-05</text>
<text class="xt" x="410.3" y="1581" text-anchor="middle" font-size="30" textLength="115.5" lengthAdjust="spacingAndGlyphs">2022-09</text>
<text class="xt" x="631.3" y="1581" text-anchor="middle" font-size="30" textLength="115.5" lengthAdjust="spacingAndGlyphs">2023-01</text>
<text class="xt" x="849.3" y="1581" text-anchor="middle" font-size="30" textLength="115.5" lengthAdjust="spacingAndGlyphs">2023-05</text>
<text class="xt" x="1072.3" y="1581" text-anchor="middle" font-size="30" textLength="115.5" lengthAdjust="spacingAndGlyphs">2023-09</text>
<text class="xt" x="1294.3" y="1581" text-anchor="middle" font-size="30" textLength="115.5" lengthAdjust="spacingAndGlyphs">2024-01</text>
<text class="xt" x="1513.3" y="1581" text-anchor="middle" font-size="30" textLength="115.5" lengthAdjust="spacingAndGlyphs">2024-05</text>
<text class="xt" x="1736.3" y="1581" text-anchor="middle" font-size="30" textLength="115.5" lengthAdjust="spacingAndGlyphs">2024-09</text>
<text class="xt" x="1958.3" y="1581" text-anchor="middle" font-size="30" textLength="115.5" lengthAdjust="spacingAndGlyphs">2025-01</text>
<text class="xt" x="2176.3" y="1581" text-anchor="middle" font-size="30" textLength="115.5" lengthAdjust="spacingAndGlyphs">2025-05</text>
<text id="xl" x="1255.3" y="1629.1" text-anchor="middle" font-size="43" textLength="94.5" lengthAdjust="spacingAndGlyphs">date</text>
</svg></body></html>
